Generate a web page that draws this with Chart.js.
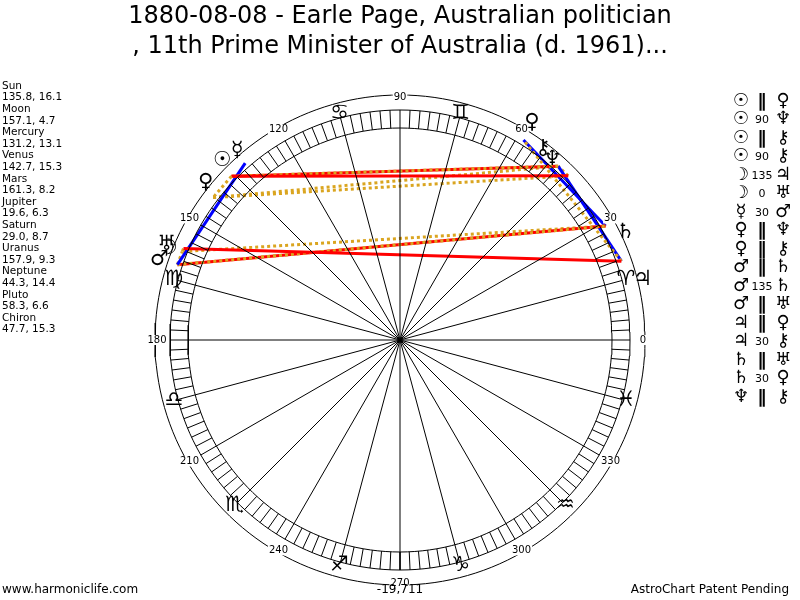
<!DOCTYPE html>
<html><head><meta charset="utf-8">
<script src="https://cdn.jsdelivr.net/npm/chart.js@4.4.0/dist/chart.umd.min.js"></script>
<style>html,body{margin:0;padding:0;background:#fff}#c{display:block}</style>
</head><body>
<div style="width:800px;height:600px"><canvas id="c"></canvas></div>
<script>
// planet data: name, glyph, longitude, declination
const planets = ['Sun', 'Moon', 'Mercury', 'Venus', 'Mars', 'Jupiter', 'Saturn', 'Uranus', 'Neptune', 'Pluto', 'Chiron']
const glyphs = ['\u2609', '\u263D', '\u263F', '\u2640', '\u2642', '\u2643', '\u2644', '\u2645', '\u2646', '\u2640', '\u26B7']
const longitudes = [135.8, 157.1, 131.2, 142.7, 161.3, 19.6, 29.0, 157.9, 44.3, 58.3, 47.7]
const declinations = [16.1, 4.7, 13.1, 15.3, 8.2, 6.3, 8.7, 9.3, 14.4, 6.6, 15.3]
// where glyphs end up after the crowding is sorted out
const glyphAngle = [134.7, 158.5, 130.6, 141, 161.5, 14, 25.5, 157.8, 49.8, 58.7, 53.3]
const glyphRadius = [253, 249, 250, 250, 254, 250, 250, 252, 236, 254, 239]

// aspects: [planet a, planet b, label, kind]
const aspects = [
   [0, 3, '\u2225', 'par'], [0, 8, '90', 'sq'], [0, 10, '\u2225', 'par'], [0, 10, '90', 'sq'],
   [1, 5, '135', 'sq'], [1, 7, '0', 'par'], [2, 4, '30', 'semi'], [3, 8, '\u2225', 'par'],
   [3, 10, '\u2225', 'par'], [4, 6, '\u2225', 'par'], [4, 6, '135', 'sq'], [4, 7, '\u2225', 'par'],
   [5, 9, '\u2225', 'par'], [5, 10, '30', 'semi'], [6, 7, '\u2225', 'par'], [6, 9, '30', 'semi'],
   [8, 10, '\u2225', 'par']
]
const signs = ['\u2648', '\u2649', '\u264A', '\u264B', '\u264C', '\u264D', '\u264E', '\u264F', '\u2650', '\u2651', '\u2652', '\u2653']
const hiddenSigns = [1, 4]
const degreeLabels = [0, 30, 60, 90, 120, 150, 180, 210, 240, 270, 300, 330]

const R_OUT = 245, R_RING = 230, R_IN = 212, R_ASP = 235
const rad = d => d * Math.PI / 180
const pt = (deg, r) => ({ x: r * Math.cos(rad(deg)), y: r * Math.sin(rad(deg)) })
const thin = { borderColor: '#000', borderWidth: 1, pointRadius: 0, showLine: true, fill: false }

const datasets = []
for (const r of [R_OUT, R_RING, R_IN]) {
   const d = []
   for (let a = 0; a <= 360; a += 2) d.push(pt(a, r))
   datasets.push({ ...thin, data: d })
}
for (let a = 0; a < 360; a += 15) datasets.push({ ...thin, data: [pt(a, 0), pt(a, R_IN)] })
for (let a = 0; a < 360; a += 2.5) datasets.push({ ...thin, data: [pt(a, R_IN), pt(a, R_RING)] })
const aspStyle = {
   par: { borderColor: '#daa520', borderDash: [3, 3] },
   sq: { borderColor: '#ff0000' },
   semi: { borderColor: '#0000ff' }
}
for (const [a, b, , k] of aspects) {
   datasets.push({ pointRadius: 0, showLine: true, borderWidth: 3, ...aspStyle[k],
      data: [pt(longitudes[a], R_ASP), pt(longitudes[b], R_ASP)] })
}

const textPlugin = {
   id: 'texts',
   afterDraw(chart) {
      const c = chart.ctx, sx = chart.scales.x, sy = chart.scales.y
      const P = (deg, r) => { const p = pt(deg, r); return [sx.getPixelForValue(p.x), sy.getPixelForValue(p.y)] }
      c.save()
      c.fillStyle = '#000'
      c.textAlign = 'center'; c.textBaseline = 'middle'
      c.font = '24px "DejaVu Sans"'
      c.fillText('1880-08-08 - Earle Page, Australian politician', 400, 17)
      c.fillText(', 11th Prime Minister of Australia (d. 1961)...', 400, 47)
      c.font = '10px "DejaVu Sans"'
      for (const d of degreeLabels) {
         const [x, y] = P(d, 243)
         const w = c.measureText(String(d)).width
         c.fillStyle = '#fff'; c.fillRect(x - w / 2 - 1, y - 5, w + 2, 10)
         c.fillStyle = '#000'; c.fillText(String(d), x, y)
      }
      c.font = 'bold 21px "DejaVu Sans"'
      signs.forEach((s, i) => {
         if (hiddenSigns.includes(i)) return
         const [x, y] = P(15 + 30 * i, 234)
         c.fillText(s, x, y)
      })
      c.font = 'bold 21px "DejaVu Sans"'
      glyphs.forEach((g, i) => {
         const [x, y] = P(glyphAngle[i], glyphRadius[i])
         c.fillText(g, x, y)
      })
      c.textAlign = 'left'
      c.font = '10.5px "DejaVu Sans"'
      planets.forEach((p, i) => {
         c.fillText(p, 2, 86 + i * 23.2)
         c.fillText(longitudes[i].toFixed(1) + ', ' + declinations[i].toFixed(1), 2, 97.6 + i * 23.2)
      })
      aspects.forEach(([a, b, l], i) => {
         const y = 101 + i * 18.5
         c.font = 'bold 18px "DejaVu Sans"'
         c.textAlign = 'center'
         c.fillText(glyphs[a], 741, y)
         c.fillText(glyphs[b], 783, y)
         c.font = (l === '\u2225' ? 'bold 18px' : '11px') + ' "DejaVu Sans"'
         c.fillText(l, 762, y + 1)
      })
      c.font = '12px "DejaVu Sans"'
      c.textAlign = 'left'; c.fillText('www.harmoniclife.com', 2, 590)
      c.textAlign = 'center'; c.fillText('-19,711', 400, 590)
      c.textAlign = 'right'; c.fillText('AstroChart Patent Pending', 789, 590)
      c.restore()
   }
}

new Chart(document.getElementById('c'), {
   type: 'scatter',
   data: { datasets },
   options: {
      responsive: true,
      maintainAspectRatio: false,
      animation: false,
      layout: { padding: 0 },
      plugins: { legend: { display: false }, tooltip: { enabled: false } },
      scales: {
         x: { type: 'linear', min: -400, max: 400, display: false },
         y: { type: 'linear', min: -260, max: 340, display: false }
      }
   },
   plugins: [textPlugin]
})
</script>
</body></html>
